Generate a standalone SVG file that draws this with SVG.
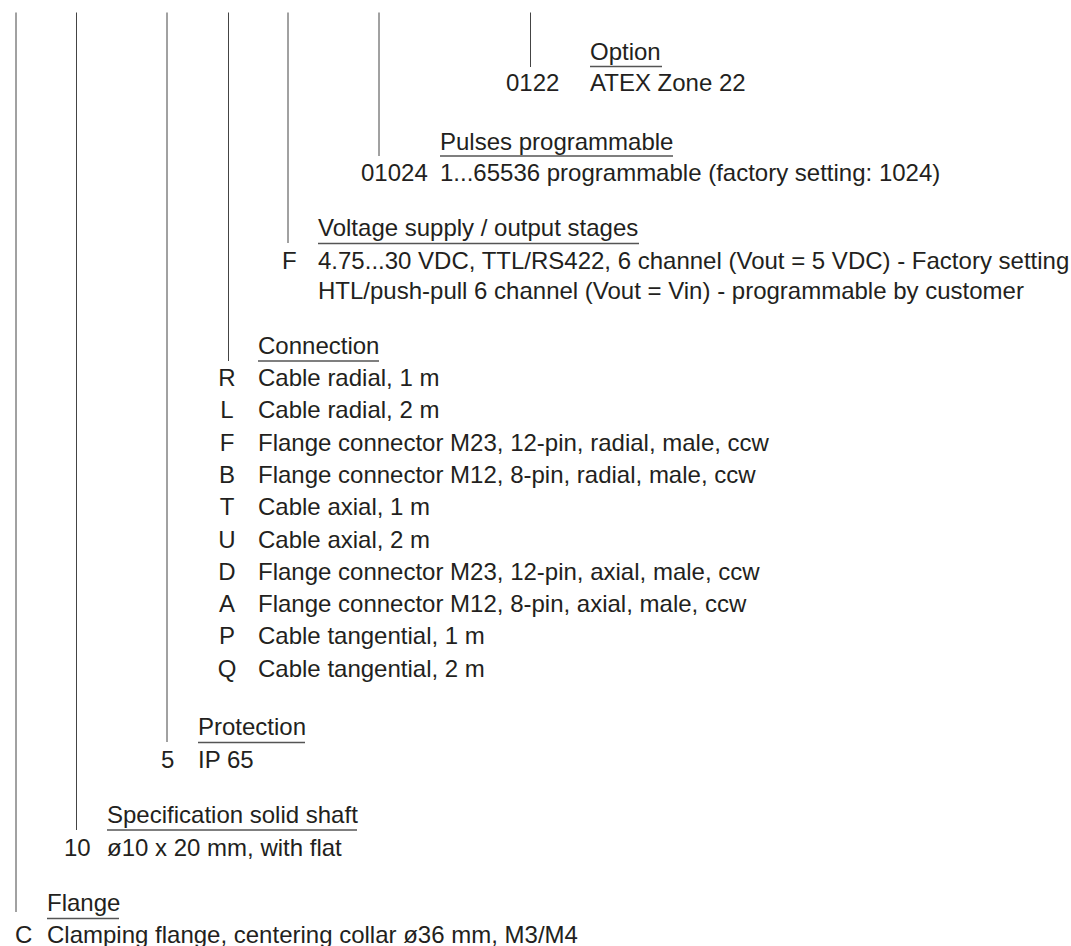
<svg xmlns="http://www.w3.org/2000/svg" width="1071" height="946" viewBox="0 0 1071 946">
<style>
text{font-family:"Liberation Sans",Arial,Helvetica,sans-serif;font-size:24px;fill:#231f20}
.c{text-anchor:middle}
.u{stroke:#555;stroke-width:1.3;fill:none}
.v{stroke:#444;stroke-width:1;fill:none}
</style>
<rect width="1071" height="946" fill="#fff"/>
<g id="connectors">
<line class="v" x1="16" y1="12.5" x2="16" y2="912"/>
<line class="v" x1="76.5" y1="12.5" x2="76.5" y2="830"/>
<line class="v" x1="167" y1="12.5" x2="167" y2="742"/>
<line class="v" x1="228.5" y1="12.5" x2="228.5" y2="361"/>
<line class="v" x1="288" y1="12.5" x2="288" y2="243"/>
<line class="v" x1="379" y1="12.5" x2="379" y2="156"/>
<line class="v" x1="530.5" y1="12.5" x2="530.5" y2="67"/>
</g>
<g id="option">
<text x="590" y="60">Option</text>
<line class="u" x1="590" y1="66.5" x2="662" y2="66.5"/>
<text x="506" y="91">0122</text>
<text x="590" y="91">ATEX Zone 22</text>
</g>
<g id="pulses">
<text x="440" y="149.5">Pulses programmable</text>
<line class="u" x1="440" y1="156" x2="673" y2="156"/>
<text x="361" y="181">01024</text>
<text x="440" y="181">1...65536 programmable (factory setting: 1024)</text>
</g>
<g id="voltage">
<text x="318" y="236">Voltage supply / output stages</text>
<line class="u" x1="318" y1="243.5" x2="639" y2="243.5"/>
<text x="282" y="268.5">F</text>
<text x="318" y="268.5">4.75...30 VDC, TTL/RS422, 6 channel (Vout = 5 VDC) - Factory setting</text>
<text x="318" y="298.5">HTL/push-pull 6 channel (Vout = Vin) - programmable by customer</text>
</g>
<g id="connection">
<text x="258" y="354">Connection</text>
<line class="u" x1="258" y1="361" x2="379" y2="361"/>
<text class="c" x="227" y="386">R</text><text x="258" y="386">Cable radial, 1 m</text>
<text class="c" x="227" y="418.3">L</text><text x="258" y="418.3">Cable radial, 2 m</text>
<text class="c" x="227" y="450.6">F</text><text x="258" y="450.6">Flange connector M23, 12-pin, radial, male, ccw</text>
<text class="c" x="227" y="482.9">B</text><text x="258" y="482.9">Flange connector M12, 8-pin, radial, male, ccw</text>
<text class="c" x="227" y="515.2">T</text><text x="258" y="515.2">Cable axial, 1 m</text>
<text class="c" x="227" y="547.5">U</text><text x="258" y="547.5">Cable axial, 2 m</text>
<text class="c" x="227" y="579.8">D</text><text x="258" y="579.8">Flange connector M23, 12-pin, axial, male, ccw</text>
<text class="c" x="227" y="612.1">A</text><text x="258" y="612.1">Flange connector M12, 8-pin, axial, male, ccw</text>
<text class="c" x="227" y="644.4">P</text><text x="258" y="644.4">Cable tangential, 1 m</text>
<text class="c" x="227" y="676.7">Q</text><text x="258" y="676.7">Cable tangential, 2 m</text>
</g>
<g id="protection">
<text x="198" y="735">Protection</text>
<line class="u" x1="198" y1="742.5" x2="305" y2="742.5"/>
<text x="161" y="768">5</text>
<text x="198" y="768">IP 65</text>
</g>
<g id="shaft">
<text x="107" y="823">Specification solid shaft</text>
<line class="u" x1="107" y1="830" x2="357" y2="830"/>
<text x="64" y="856">10</text>
<text x="107" y="856">ø10 x 20 mm, with flat</text>
</g>
<g id="flange">
<text x="47" y="911">Flange</text>
<line class="u" x1="47" y1="918.5" x2="119" y2="918.5"/>
<text x="15" y="943">C</text>
<text x="47" y="943">Clamping flange, centering collar ø36 mm, M3/M4</text>
</g>
</svg>
